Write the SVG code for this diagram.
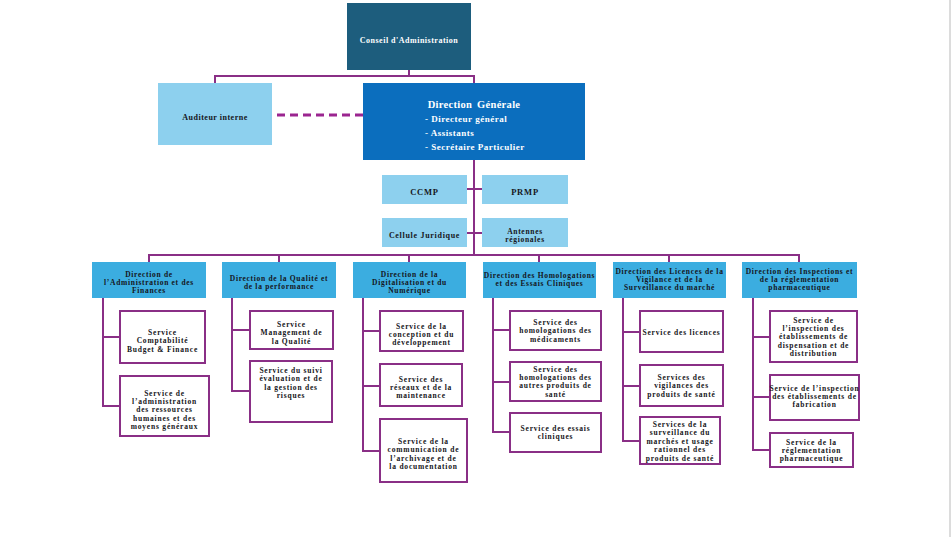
<svg xmlns="http://www.w3.org/2000/svg" width="951" height="537" viewBox="0 0 951 537">
<style>
text{font-family:"Liberation Serif","Times New Roman",serif;font-weight:bold;text-anchor:middle;fill:#151520}
.w{fill:#ffffff}
.dir rect{fill:#3badE0}
.lb rect{fill:#8dd0ee}
.svc rect{fill:#ffffff;stroke:#8a2f86;stroke-width:2}
.d{font-size:7.5px;letter-spacing:0.7px}
.s{font-size:7.5px;letter-spacing:0.8px}
.c{fill:none;stroke:#8a2f86;stroke-width:2}
</style>
<rect x="0" y="0" width="951" height="537" fill="#ffffff"/>
<line x1="950" y1="0" x2="950" y2="537" stroke="#d0d0d0" stroke-width="1.5"/>
<g id="connectors">
<polyline class="c" points="215,83 215,76 474,76 474,83"/>
<line class="c" x1="409" y1="70" x2="409" y2="76"/>
<line x1="277" y1="115" x2="363" y2="115" stroke="#9b2590" stroke-width="3" stroke-dasharray="8,5"/>
<line class="c" x1="474" y1="160" x2="474" y2="255"/>
<line class="c" x1="467" y1="189" x2="482" y2="189"/>
<line class="c" x1="467" y1="233" x2="482" y2="233"/>
<polyline class="c" points="149,262 149,255 799,255 799,262"/>
<line class="c" x1="279" y1="255" x2="279" y2="262"/>
<line class="c" x1="409" y1="255" x2="409" y2="262"/>
<line class="c" x1="539" y1="255" x2="539" y2="262"/>
<line class="c" x1="669" y1="255" x2="669" y2="262"/>
<polyline class="c" points="103,298 103,406 120,406"/>
<line class="c" x1="103" y1="337" x2="120" y2="337"/>
<polyline class="c" points="232,298 232,391 250,391"/>
<line class="c" x1="232" y1="330" x2="250" y2="330"/>
<polyline class="c" points="363,298 363,451 380,451"/>
<line class="c" x1="363" y1="331" x2="380" y2="331"/>
<line class="c" x1="363" y1="386" x2="380" y2="386"/>
<polyline class="c" points="493,298 493,432 510,432"/>
<line class="c" x1="493" y1="330" x2="510" y2="330"/>
<line class="c" x1="493" y1="382" x2="510" y2="382"/>
<polyline class="c" points="623,298 623,441 640,441"/>
<line class="c" x1="623" y1="332" x2="640" y2="332"/>
<line class="c" x1="623" y1="386" x2="640" y2="386"/>
<polyline class="c" points="753,298 753,450 770,450"/>
<line class="c" x1="753" y1="337" x2="770" y2="337"/>
<line class="c" x1="753" y1="397" x2="770" y2="397"/>
</g>
<g id="conseil">
<rect x="347" y="3" width="124" height="67" fill="#1d5d7d"/>
<text class="w" x="409" y="43" font-size="8px" letter-spacing="0.5px">Conseil d'Administration</text>
</g>
<g id="auditeur" class="lb">
<rect x="158" y="83" width="114" height="62"/>
<text x="215" y="120" font-size="8px" letter-spacing="0.5px">Auditeur interne</text>
</g>
<g id="direction-generale">
<rect x="363" y="83" width="222" height="77" fill="#0b6ebe"/>
<text class="w" x="474" y="107.5" font-size="10.5px" letter-spacing="0.3px" word-spacing="2px">Direction Générale</text>
<text class="w" x="425" y="121.5" font-size="9px" letter-spacing="0.5px" style="text-anchor:start">- Directeur général</text>
<text class="w" x="425" y="135.5" font-size="9px" letter-spacing="0.5px" style="text-anchor:start">- Assistants</text>
<text class="w" x="425" y="149.5" font-size="9px" letter-spacing="0.5px" style="text-anchor:start">- Secrétaire Particulier</text>
</g>
<g id="ccmp" class="lb">
<rect x="382" y="175" width="85" height="29"/>
<text x="424.5" y="195" font-size="8.5px" letter-spacing="0.8px">CCMP</text>
</g>
<g id="prmp" class="lb">
<rect x="482" y="175" width="86" height="29"/>
<text x="525" y="195" font-size="8.5px" letter-spacing="0.8px">PRMP</text>
</g>
<g id="cellule-juridique" class="lb">
<rect x="382" y="218" width="85" height="29"/>
<text x="424.5" y="238" font-size="8px" letter-spacing="0.7px">Cellule Juridique</text>
</g>
<g id="antennes" class="lb">
<rect x="482" y="218" width="86" height="29"/>
<text class="d" x="525" y="233.5">Antennes</text>
<text class="d" x="525" y="242">régionales</text>
</g>
<g id="dir-admin" class="dir">
<rect x="92" y="262" width="114" height="36"/>
<text class="d" x="149" y="276.5">Direction de</text>
<text class="d" x="149" y="284.9">l’Administration et des</text>
<text class="d" x="149" y="293.3">Finances</text>
</g>
<g id="dir-qualite" class="dir">
<rect x="222" y="262" width="114" height="36"/>
<text class="d" x="279" y="280.5">Direction de la Qualité et</text>
<text class="d" x="279" y="288.9">de la performance</text>
</g>
<g id="dir-digital" class="dir">
<rect x="353" y="262" width="113" height="36"/>
<text class="d" x="409.5" y="276.5">Direction de la</text>
<text class="d" x="409.5" y="284.9">Digitalisation et du</text>
<text class="d" x="409.5" y="293.3">Numérique</text>
</g>
<g id="dir-homolog" class="dir">
<rect x="483" y="262" width="113" height="36"/>
<text class="d" x="539.5" y="277.5">Direction des Homologations</text>
<text class="d" x="539.5" y="285.9">et des Essais Cliniques</text>
</g>
<g id="dir-licences" class="dir">
<rect x="613" y="262" width="113" height="36"/>
<text class="d" x="669.5" y="273.5">Direction des Licences de la</text>
<text class="d" x="669.5" y="281.9">Vigilance et de la</text>
<text class="d" x="669.5" y="290.3">Surveillance du marché</text>
</g>
<g id="dir-inspections" class="dir">
<rect x="742" y="262" width="115" height="36"/>
<text class="d" x="799.5" y="273.5">Direction des Inspections et</text>
<text class="d" x="799.5" y="281.9">de la réglementation</text>
<text class="d" x="799.5" y="290.3">pharmaceutique</text>
</g>
<g id="svc-compta" class="svc">
<rect x="120" y="311" width="85" height="52"/>
<text class="s" x="162.5" y="335">Service</text>
<text class="s" x="162.5" y="343.4">Comptabilité</text>
<text class="s" x="162.5" y="351.8">Budget &amp; Finance</text>
</g>
<g id="svc-rh" class="svc">
<rect x="120" y="376" width="89" height="60"/>
<text class="s" x="164.5" y="395.5">Service de</text>
<text class="s" x="164.5" y="403.9">l’administration</text>
<text class="s" x="164.5" y="412.3">des ressources</text>
<text class="s" x="164.5" y="420.7">humaines et des</text>
<text class="s" x="164.5" y="429.1">moyens généraux</text>
</g>
<g id="svc-mgmt-qualite" class="svc">
<rect x="250" y="311" width="83" height="38"/>
<text class="s" x="291.5" y="327">Service</text>
<text class="s" x="291.5" y="335.4">Management de</text>
<text class="s" x="291.5" y="343.8">la Qualité</text>
</g>
<g id="svc-suivi" class="svc">
<rect x="250" y="361" width="82" height="61"/>
<text class="s" x="291" y="373">Service du suivi</text>
<text class="s" x="291" y="381.4">évaluation et de</text>
<text class="s" x="291" y="389.8">la gestion des</text>
<text class="s" x="291" y="398.2">risques</text>
</g>
<g id="svc-conception" class="svc">
<rect x="380" y="311" width="83" height="40"/>
<text class="s" x="421.5" y="328.5">Service de la</text>
<text class="s" x="421.5" y="336.9">conception et du</text>
<text class="s" x="421.5" y="345.3">développement</text>
</g>
<g id="svc-reseaux" class="svc">
<rect x="380" y="364" width="82" height="42"/>
<text class="s" x="421" y="381.5">Service des</text>
<text class="s" x="421" y="389.9">réseaux et de la</text>
<text class="s" x="421" y="398.3">maintenance</text>
</g>
<g id="svc-communication" class="svc">
<rect x="380" y="419" width="87" height="63"/>
<text class="s" x="423.5" y="444">Service de la</text>
<text class="s" x="423.5" y="452.4">communication de</text>
<text class="s" x="423.5" y="460.8">l’archivage  et de</text>
<text class="s" x="423.5" y="469.2">la documentation</text>
</g>
<g id="svc-homolog-med" class="svc">
<rect x="510" y="311" width="91" height="39"/>
<text class="s" x="555.5" y="325">Service des</text>
<text class="s" x="555.5" y="333.4">homologations des</text>
<text class="s" x="555.5" y="341.8">médicaments</text>
</g>
<g id="svc-homolog-autres" class="svc">
<rect x="510" y="362" width="91" height="39"/>
<text class="s" x="555.5" y="371.5">Service des</text>
<text class="s" x="555.5" y="379.9">homologations des</text>
<text class="s" x="555.5" y="388.3">autres produits de</text>
<text class="s" x="555.5" y="396.7">santé</text>
</g>
<g id="svc-essais" class="svc">
<rect x="510" y="413" width="91" height="39"/>
<text class="s" x="555.5" y="431">Service des essais</text>
<text class="s" x="555.5" y="439.4">cliniques</text>
</g>
<g id="svc-licences" class="svc">
<rect x="640" y="311" width="83" height="41"/>
<text class="s" x="681.5" y="334.5">Service des licences</text>
</g>
<g id="svc-vigilances" class="svc">
<rect x="640" y="365" width="83" height="41"/>
<text class="s" x="681.5" y="380">Services des</text>
<text class="s" x="681.5" y="388.4">vigilances des</text>
<text class="s" x="681.5" y="396.8">produits de santé</text>
</g>
<g id="svc-surveillance" class="svc">
<rect x="640" y="417" width="80" height="47"/>
<text class="s" x="680" y="427">Services de la</text>
<text class="s" x="680" y="435.4">surveillance du</text>
<text class="s" x="680" y="443.8">marchés et usage</text>
<text class="s" x="680" y="452.2">rationnel des</text>
<text class="s" x="680" y="460.6">produits de santé</text>
</g>
<g id="svc-insp-dispensation" class="svc">
<rect x="770" y="311" width="87" height="51"/>
<text class="s" x="813.5" y="322.5">Service de</text>
<text class="s" x="813.5" y="330.9">l’inspection des</text>
<text class="s" x="813.5" y="339.3">établissements de</text>
<text class="s" x="813.5" y="347.7">dispensation et de</text>
<text class="s" x="813.5" y="356.1">distribution</text>
</g>
<g id="svc-insp-fabrication" class="svc">
<rect x="770" y="375" width="89" height="45"/>
<text class="s" x="814.5" y="390.5">Service de l’inspection</text>
<text class="s" x="814.5" y="398.9">des établissements de</text>
<text class="s" x="814.5" y="407.3">fabrication</text>
</g>
<g id="svc-reglementation" class="svc">
<rect x="770" y="433" width="83" height="34"/>
<text class="s" x="811.5" y="444.5">Service de la</text>
<text class="s" x="811.5" y="452.9">réglementation</text>
<text class="s" x="811.5" y="461.3">pharmaceutique</text>
</g>
</svg>
